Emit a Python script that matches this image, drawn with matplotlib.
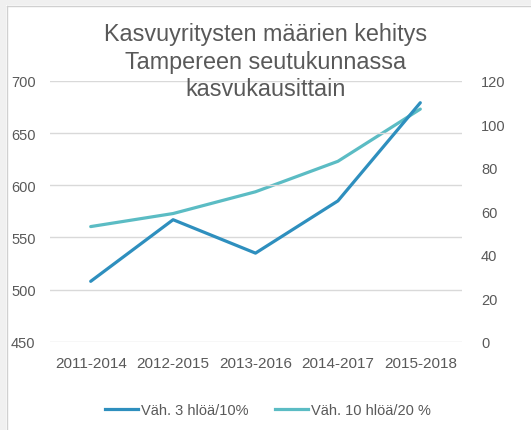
import matplotlib
matplotlib.use("Agg")
import matplotlib.pyplot as plt
from matplotlib.patches import Rectangle
from matplotlib.lines import Line2D

categories = ["2011-2014", "2012-2015", "2013-2016", "2014-2017", "2015-2018"]
series1_name = "Väh. 3 hlöä/10%"
series1 = [508, 567, 535, 585, 679]
series2_name = "Väh. 10 hlöä/20 %"
series2 = [53, 59, 69, 83, 107]
left_ticks = [450, 500, 550, 600, 650, 700]
right_ticks = [0, 20, 40, 60, 80, 100, 120]
title = "Kasvuyritysten määrien kehitys\nTampereen seutukunnassa\nkasvukausittain"

plt.rcParams['font.family'] = ['Liberation Sans', 'DejaVu Sans']
W, H = 531, 431
fig = plt.figure(figsize=(W / 100, H / 100), dpi=100)
fig.patch.set_facecolor('white')

# outer gray strips and chart border
fig.patches.append(Rectangle((0, 0), 6 / W, 1, transform=fig.transFigure, facecolor='#f0f0f0', edgecolor='none', zorder=0))
fig.patches.append(Rectangle((0, 1 - 6 / H), 1, 6 / H, transform=fig.transFigure, facecolor='#f0f0f0', edgecolor='none', zorder=0))
fig.add_artist(Line2D([6.5 / W, 6.5 / W], [0, 1 - 6.5 / H], transform=fig.transFigure, color='#d0d0d0', lw=1))
fig.add_artist(Line2D([6.5 / W, 1], [1 - 6.5 / H, 1 - 6.5 / H], transform=fig.transFigure, color='#d0d0d0', lw=1))

x0, x1 = 49.5, 461.5
y0, y1 = 81.8, 342.9
ax = fig.add_axes([x0 / W, 1 - y1 / H, (x1 - x0) / W, (y1 - y0) / H])
ax2 = ax.twinx()

c1 = '#2e8fbe'
c2 = '#5bbcc4'
gray = '#595959'

xs = list(range(len(categories)))
ax.plot(xs, series1, color=c1, lw=2.3, solid_capstyle='round', zorder=3)
ax2.plot(xs, series2, color=c2, lw=2.3, solid_capstyle='round', zorder=3)
ax.set_zorder(ax2.get_zorder() + 1)
ax.patch.set_visible(False)

ax.set_xlim(-0.5, len(categories) - 0.5)
ax.set_ylim(left_ticks[0], left_ticks[-1])
ax.set_yticks(left_ticks)
ax2.set_ylim(right_ticks[0], right_ticks[-1])
ax2.set_yticks(right_ticks)
ax.set_xticks(xs)
ax.set_xticklabels(categories)

for a in (ax, ax2):
    for s in a.spines.values():
        s.set_visible(False)
    a.tick_params(length=0, colors=gray, labelsize=10.5)
ax.tick_params(axis='y', pad=10)
ax2.tick_params(axis='y', pad=14)
ax.tick_params(axis='x', pad=10, labelsize=11)
ax.grid(axis='y', color='#d9d9d9', lw=1)
ax.set_axisbelow(True)

fig.text(0.5, 1 - 62 / H, title, ha='center', va='center', fontsize=16.8, color=gray, linespacing=1.25)

handles = [Line2D([], [], color=c1, lw=2.3), Line2D([], [], color=c2, lw=2.3)]
fig.legend(handles, [series1_name, series2_name], loc='center', bbox_to_anchor=(268 / W, 1 - 411 / H),
           ncol=2, frameon=False, fontsize=10.5, labelcolor=gray, handlelength=2.3, handletextpad=0.2,
           columnspacing=1.8)

fig.savefig('out.png', dpi=100, facecolor='white')
